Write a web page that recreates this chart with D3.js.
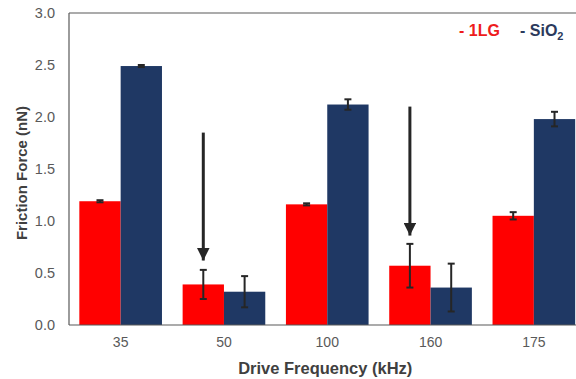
<!DOCTYPE html>
<html>
<head>
<meta charset="utf-8">
<script src="https://cdn.jsdelivr.net/npm/d3@7"></script>
<style>
  html, body { margin: 0; padding: 0; background: #fff; }
  svg { display: block; font-family: Arial, "Liberation Sans", sans-serif; }
</style>
</head>
<body>
<svg id="chart" width="576" height="379"></svg>
<script>
// Drive frequencies (kHz)
const categories = ["35", "50", "100", "160", "175"];
// Mean friction force (nN) per substrate
const series1LG  = [1.19, 0.39, 1.16, 0.57, 1.05];
const seriesSiO2 = [2.49, 0.32, 2.12, 0.36, 1.98];
// Standard deviations (nN)
const err1LG  = [0.01, 0.14, 0.01, 0.21, 0.035];
const errSiO2 = [0.01, 0.15, 0.05, 0.23, 0.07];
// Highlight arrows: category, start value, tip value
const arrows = [
  { cat: "50",  from: 1.85, to: 0.62 },
  { cat: "160", from: 2.10, to: 0.86 }
];
const yTicks = [0, 0.5, 1.0, 1.5, 2.0, 2.5, 3.0];

const colors = { "1LG": "#ff0000", "SiO2": "#1f3864" };
const seriesNames = ["1LG", "SiO2"];

const svg = d3.select("#chart");
const mLeft = 69, mTop = 13, mBottom = 325, mRight = 585.5;

const x = d3.scaleBand().domain(categories).range([mLeft, mRight])
  .paddingInner(0.2).paddingOuter(0.1);
const xSub = d3.scaleBand().domain(seriesNames).range([0, x.bandwidth()]);
const y = d3.scaleLinear().domain([0, 3]).range([mBottom, mTop]);

const rows = categories.map((c, i) => ({
  cat: c,
  vals: [
    { s: "1LG", v: series1LG[i], e: err1LG[i] },
    { s: "SiO2", v: seriesSiO2[i], e: errSiO2[i] }
  ]
}));

// Bars
const groups = svg.append("g").selectAll("g").data(rows).join("g")
  .attr("transform", d => `translate(${x(d.cat)},0)`);
groups.selectAll("rect").data(d => d.vals).join("rect")
  .attr("x", d => xSub(d.s))
  .attr("y", d => y(d.v))
  .attr("width", xSub.bandwidth())
  .attr("height", d => y(0) - y(d.v))
  .attr("fill", d => colors[d.s]);

// Error bars
const eb = groups.selectAll("g.err").data(d => d.vals).join("g").attr("class", "err")
  .attr("stroke", "#262626").attr("stroke-width", 2);
eb.append("line")
  .attr("x1", d => xSub(d.s) + xSub.bandwidth() / 2)
  .attr("x2", d => xSub(d.s) + xSub.bandwidth() / 2)
  .attr("y1", d => y(d.v + d.e)).attr("y2", d => y(d.v - d.e));
[1, -1].forEach(sign => {
  eb.append("line")
    .attr("x1", d => xSub(d.s) + xSub.bandwidth() / 2 - 3.5)
    .attr("x2", d => xSub(d.s) + xSub.bandwidth() / 2 + 3.5)
    .attr("y1", d => y(d.v + sign * d.e)).attr("y2", d => y(d.v + sign * d.e));
});

// Frame: left, bottom and top borders
const frame = svg.append("g").attr("stroke", "#595959").attr("stroke-width", 1.2);
frame.append("line").attr("x1", mLeft).attr("x2", mLeft).attr("y1", mTop).attr("y2", mBottom);
frame.append("line").attr("x1", mLeft).attr("x2", 576).attr("y1", mBottom).attr("y2", mBottom);
frame.append("line").attr("x1", mLeft).attr("x2", 576).attr("y1", mTop).attr("y2", mTop);

// Y axis
const yAxis = svg.append("g").attr("transform", `translate(${mLeft},0)`)
  .call(d3.axisLeft(y).tickValues(yTicks).tickFormat(d3.format(".1f")).tickSize(0).tickPadding(14));
yAxis.select(".domain").remove();
yAxis.selectAll("text").attr("fill", "#595959").style("font-size", "14.5px");

// X axis
const xAxis = svg.append("g").attr("transform", `translate(0,${mBottom})`)
  .call(d3.axisBottom(x).tickSize(0).tickPadding(12));
xAxis.select(".domain").remove();
xAxis.selectAll("text").attr("fill", "#595959").style("font-size", "14px");

// Axis titles
svg.append("text").attr("x", (mLeft + mRight) / 2 - 2).attr("y", 374)
  .attr("text-anchor", "middle").attr("fill", "#404040")
  .style("font-size", "16.5px").style("font-weight", "bold")
  .text("Drive Frequency (kHz)");
svg.append("text").attr("transform", `translate(27,${(mTop + mBottom) / 2 + 4}) rotate(-90)`)
  .attr("text-anchor", "middle").attr("fill", "#404040")
  .style("font-size", "15px").style("font-weight", "bold")
  .text("Friction Force (nN)");

// Arrows
svg.append("defs").append("marker")
  .attr("id", "head").attr("viewBox", "0 0 10 10").attr("refX", 10).attr("refY", 5)
  .attr("markerWidth", 4.2).attr("markerHeight", 4.2).attr("markerUnits", "strokeWidth")
  .attr("orient", "auto")
  .append("path").attr("d", "M0,0 L10,5 L0,10 Z").attr("fill", "#262626");
svg.append("g").selectAll("line").data(arrows).join("line")
  .attr("x1", d => x(d.cat) + xSub("1LG") + xSub.bandwidth() / 2)
  .attr("x2", d => x(d.cat) + xSub("1LG") + xSub.bandwidth() / 2)
  .attr("y1", d => y(d.from)).attr("y2", d => y(d.to))
  .attr("stroke", "#262626").attr("stroke-width", 3)
  .attr("marker-end", "url(#head)");

// Legend
svg.append("text").attr("x", 459).attr("y", 36)
  .style("font-size", "16px").style("font-weight", "bold").attr("fill", "#ee1c1c")
  .text("- 1LG");
const l2 = svg.append("text").attr("x", 520).attr("y", 36)
  .style("font-size", "16px").style("font-weight", "bold").attr("fill", "#2b3a5c");
l2.append("tspan").text("- SiO");
l2.append("tspan").attr("dy", 4).style("font-size", "11px").text("2");
</script>
</body>
</html>
